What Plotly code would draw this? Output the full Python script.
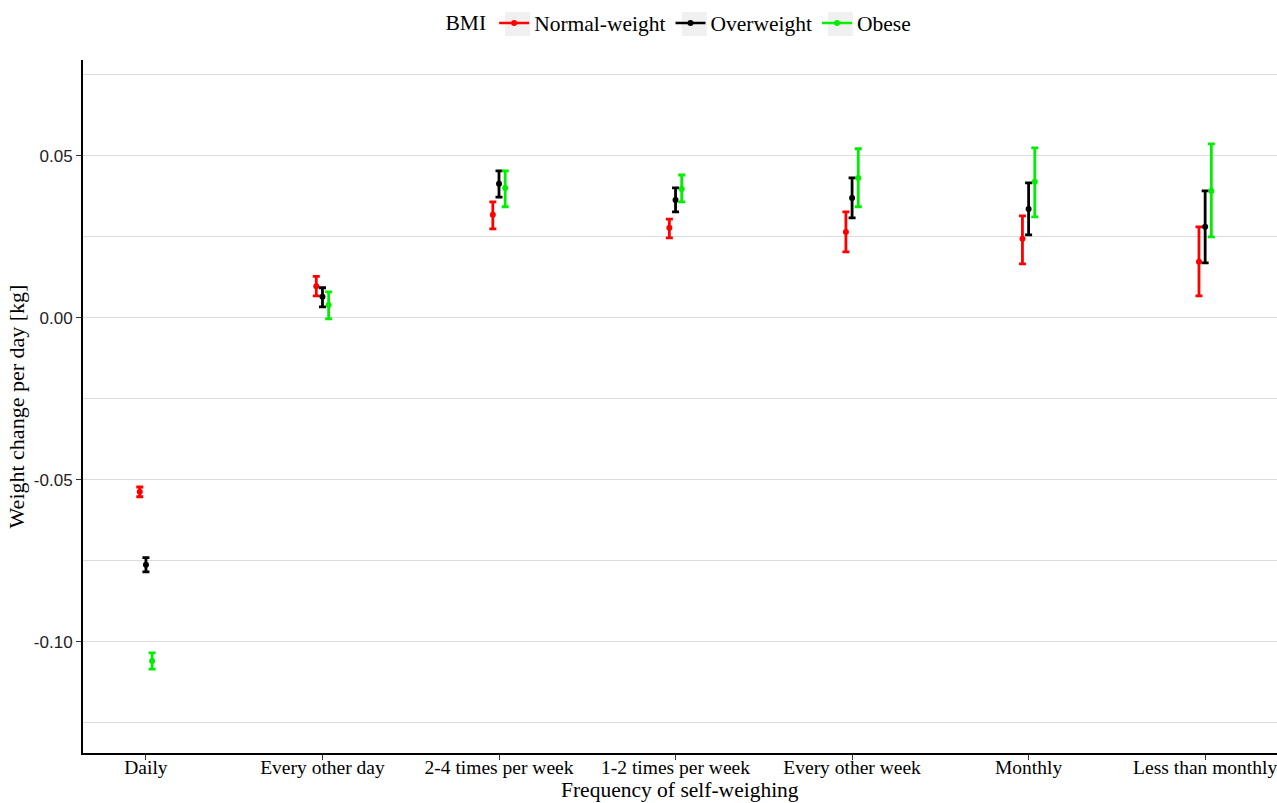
import plotly.graph_objects as go

# Frequency categories on the x axis
categories = ["Daily", "Every other day", "2-4 times per week", "1-2 times per week",
              "Every other week", "Monthly", "Less than monthly"]

# Mean weight change per day [kg] with lower / upper interval bounds, per BMI group
normal_mean = [-0.0537, 0.0098, 0.0318, 0.0278, 0.0265, 0.0244, 0.0173]
normal_lo = [-0.0552, 0.0068, 0.0275, 0.0247, 0.0204, 0.0167, 0.0068]
normal_hi = [-0.0522, 0.0128, 0.0358, 0.0305, 0.0327, 0.0315, 0.0281]

over_mean = [-0.0762, 0.0065, 0.0414, 0.0364, 0.0370, 0.0336, 0.0281]
over_lo = [-0.0784, 0.0034, 0.0373, 0.0327, 0.0309, 0.0256, 0.0170]
over_hi = [-0.0740, 0.0093, 0.0454, 0.0401, 0.0432, 0.0417, 0.0392]

obese_mean = [-0.1059, 0.0040, 0.0401, 0.0398, 0.0432, 0.0420, 0.0392]
obese_lo = [-0.1084, -0.0003, 0.0343, 0.0358, 0.0343, 0.0312, 0.0250]
obese_hi = [-0.1034, 0.0080, 0.0454, 0.0441, 0.0522, 0.0525, 0.0537]

groups = [
    ("Normal-weight", "#ff0000", -0.035, normal_mean, normal_lo, normal_hi),
    ("Overweight", "#000000", 0.0, over_mean, over_lo, over_hi),
    ("Obese", "#00ee00", 0.035, obese_mean, obese_lo, obese_hi),
]

SERIF = "Liberation Serif"
SANS = "Liberation Sans"

fig = go.Figure()
for name, color, dodge, mean, lo, hi in groups:
    xs = [i + 1 + dodge for i in range(len(categories))]
    fig.add_trace(go.Scatter(
        x=xs, y=mean, mode="markers", name=name, showlegend=False,
        marker=dict(color=color, size=6),
        error_y=dict(type="data", symmetric=False,
                     array=[h - m for h, m in zip(hi, mean)],
                     arrayminus=[m - l for m, l in zip(mean, lo)],
                     color=color, thickness=2.8, width=3.5),
    ))
    # legend key: point with a short horizontal range line
    fig.add_trace(go.Scatter(
        x=[None], y=[None], mode="lines+markers", name=name,
        line=dict(color=color, width=2.5), marker=dict(color=color, size=6),
    ))

# light grey panels behind the legend keys
for x0, x1 in [(0.3535, 0.3745), (0.5015, 0.5225), (0.6238, 0.6448)]:
    fig.add_shape(type="rect", xref="paper", yref="paper", x0=x0, x1=x1,
                  y0=1.0346, y1=1.069, fillcolor="#f0f0f0", line=dict(width=0),
                  layer="below")

# x-axis title, sitting at the very bottom of the figure
fig.add_annotation(text="Frequency of self-weighing", xref="paper", yref="paper",
                   x=0.5, y=-0.0722, xanchor="center", yanchor="bottom", showarrow=False,
                   borderpad=0, font=dict(size=21.5, family=SERIF, color="#000000"))

fig.update_layout(
    width=1277, height=803,
    margin=dict(l=83, r=0, t=60, b=50),
    paper_bgcolor="white", plot_bgcolor="white",
    font=dict(family=SERIF, size=19, color="#000000"),
    showlegend=True,
    legend=dict(orientation="h", x=0.5, xanchor="center", y=0.997, yanchor="top",
                yref="container", bgcolor="rgba(0,0,0,0)",
                font=dict(size=21.5, family=SERIF, color="#000000"),
                title=dict(text="BMI", font=dict(size=21.5, family=SERIF)),
                itemwidth=30, tracegroupgap=0),
)

fig.update_xaxes(
    range=[0.6435, 7.407],
    tickmode="array", tickvals=list(range(1, len(categories) + 1)), ticktext=categories,
    showgrid=False, zeroline=False,
    showline=True, linecolor="#000000", linewidth=2,
    ticks="outside", ticklen=5, tickcolor="#333333", tickwidth=1,
    ticklabeloverflow="allow", ticklabelstandoff=-9,
    tickfont=dict(size=19.5, family=SERIF, color="#000000"),
)
fig.update_yaxes(
    range=[-0.1343, 0.0796],
    tickmode="array", tickvals=[-0.10, -0.05, 0.0, 0.05],
    ticktext=["-0.10", "-0.05", "0.00", "0.05"],
    showgrid=True, gridcolor="#dcdcdc", gridwidth=1,
    minor=dict(tickmode="array", tickvals=[-0.125, -0.075, -0.025, 0.025, 0.075],
               showgrid=True, gridcolor="#dcdcdc", gridwidth=1, ticks=""),
    zeroline=False,
    showline=True, linecolor="#000000", linewidth=2,
    ticks="outside", ticklen=5, tickcolor="#333333", tickwidth=1,
    tickfont=dict(size=17, family=SANS, color="#222222"),
    title=dict(text="Weight change per day [kg]", font=dict(size=22, family=SERIF), standoff=3),
)

fig.write_html("out.html")
